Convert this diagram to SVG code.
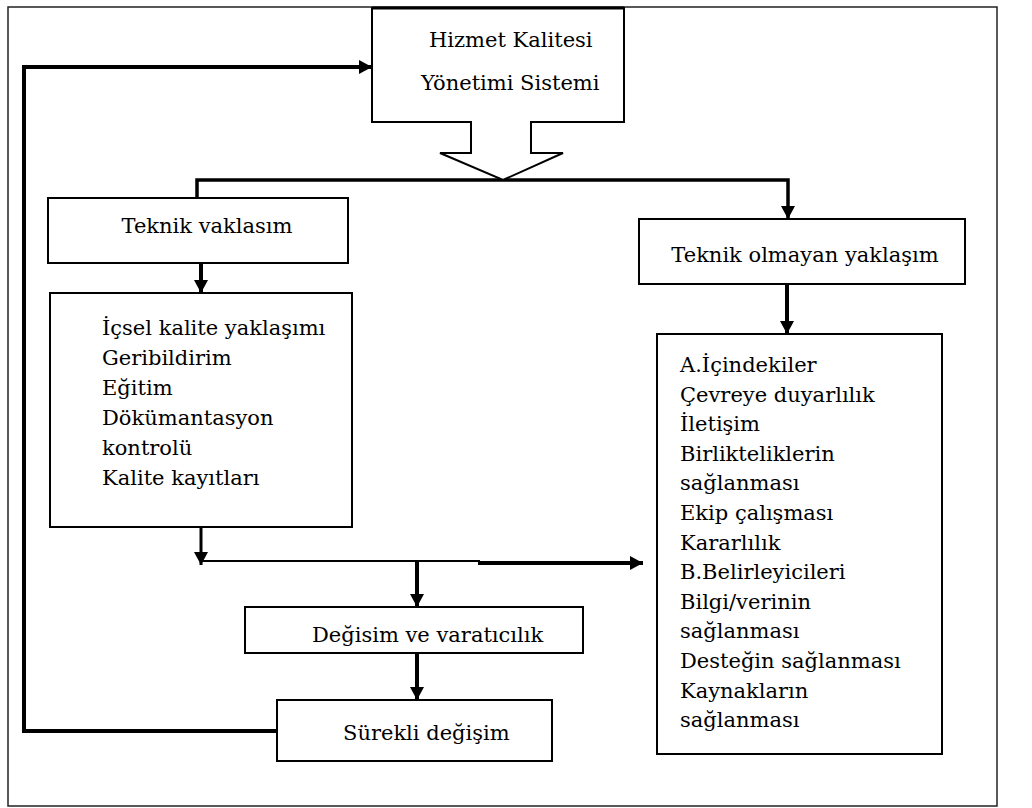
<svg xmlns="http://www.w3.org/2000/svg" width="1032" height="808" viewBox="0 0 1032 808">
<defs>
<marker id="ah" markerUnits="userSpaceOnUse" markerWidth="16" markerHeight="16" refX="13" refY="7" orient="auto">
<path d="M0,0 L13,7 L0,14 z" fill="#000"/>
</marker>
<style>
.box{fill:#fff;stroke:#000;stroke-width:2}
.t{font-family:"DejaVu Serif",serif;font-size:21px;fill:#000}
.c{fill:none;stroke:#000;stroke-linejoin:miter}
</style>
</defs>
<rect x="0" y="0" width="1032" height="808" fill="#fff"/>
<rect id="frame" x="8" y="7" width="989" height="799" fill="none" stroke="#222" stroke-width="1.5"/>

<g id="connectors">
<polyline class="c" points="277,731 24,731 24,67 372,67" stroke-width="4" marker-end="url(#ah)"/>
<polyline class="c" points="197,198 197,180 788,180 788,219" stroke-width="3.5" marker-end="url(#ah)"/>
<line class="c" x1="201" y1="263" x2="201" y2="293" stroke-width="4" marker-end="url(#ah)"/>
<line class="c" x1="787" y1="284" x2="787" y2="334" stroke-width="4" marker-end="url(#ah)"/>
<line class="c" x1="201" y1="522" x2="201" y2="565" stroke-width="3" marker-end="url(#ah)"/>
<line class="c" x1="201" y1="561" x2="480" y2="561" stroke-width="2"/>
<line class="c" x1="478" y1="563" x2="643" y2="563" stroke-width="4" marker-end="url(#ah)"/>
<line class="c" x1="417" y1="561" x2="417" y2="607" stroke-width="4" marker-end="url(#ah)"/>
<line class="c" x1="417" y1="653" x2="417" y2="700" stroke-width="4" marker-end="url(#ah)"/>
</g>

<g id="hizmet">
<polygon class="box" points="372,8 624,8 624,122 531,122 531,153 563,153 503,180 440,153 471,153 471,122 372,122"/>
<line x1="372" y1="8" x2="624" y2="8" stroke="#000" stroke-width="3"/>
<text class="t" x="429" y="47">Hizmet Kalitesi</text>
<text class="t" x="421" y="90">Yönetimi Sistemi</text>
</g>

<g id="teknik">
<rect class="box" x="48" y="198" width="300" height="65"/>
<text class="t" x="207" y="233" text-anchor="middle">Teknik vaklasım</text>
</g>

<g id="teknik-list">
<rect class="box" x="50" y="293" width="302" height="234"/>
<text class="t" x="102" y="335">İçsel kalite yaklaşımı</text>
<text class="t" x="102" y="365">Geribildirim</text>
<text class="t" x="102" y="395">Eğitim</text>
<text class="t" x="102" y="425">Dökümantasyon</text>
<text class="t" x="102" y="455">kontrolü</text>
<text class="t" x="102" y="485">Kalite kayıtları</text>
</g>

<g id="teknik-olmayan">
<rect class="box" x="639" y="219" width="326" height="65"/>
<text class="t" x="805" y="262" text-anchor="middle">Teknik olmayan yaklaşım</text>
</g>

<g id="olmayan-list">
<rect class="box" x="657" y="334" width="285" height="420"/>
<text class="t" x="680" y="372">A.İçindekiler</text>
<text class="t" x="680" y="401.6">Çevreye duyarlılık</text>
<text class="t" x="680" y="431.2">İletişim</text>
<text class="t" x="680" y="460.8">Birlikteliklerin</text>
<text class="t" x="680" y="490.4">sağlanması</text>
<text class="t" x="680" y="520">Ekip çalışması</text>
<text class="t" x="680" y="549.6">Kararlılık</text>
<text class="t" x="680" y="579.2">B.Belirleyicileri</text>
<text class="t" x="680" y="608.8">Bilgi/verinin</text>
<text class="t" x="680" y="638.4">sağlanması</text>
<text class="t" x="680" y="668">Desteğin sağlanması</text>
<text class="t" x="680" y="697.6">Kaynakların</text>
<text class="t" x="680" y="727.2">sağlanması</text>
</g>

<g id="degisim">
<rect class="box" x="245" y="607" width="338" height="46"/>
<text class="t" x="312" y="642">Değisim ve varatıcılık</text>
</g>

<g id="surekli">
<rect class="box" x="277" y="700" width="275" height="61"/>
<text class="t" x="343" y="740">Sürekli değişim</text>
</g>
</svg>
